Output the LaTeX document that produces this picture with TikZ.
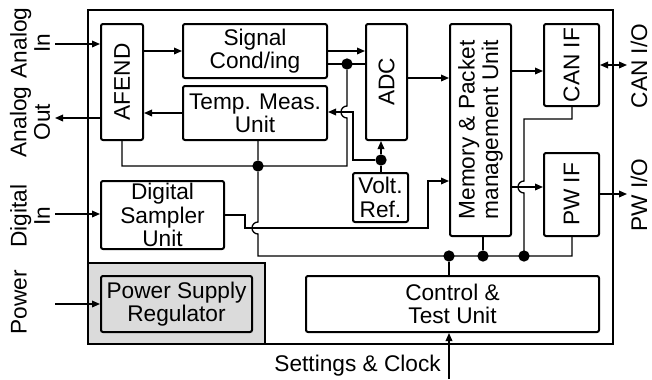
\documentclass[tikz,border=0pt]{standalone}
\usepackage{fontspec}
\setmainfont{Liberation Sans}
\usetikzlibrary{arrows.meta}
\begin{document}
\begin{tikzpicture}[x=0.75pt,y=-0.75pt,
  font=\fontsize{17}{17.5}\selectfont,
  blk/.style={draw, line width=1.5pt, rounded corners=1.5pt, inner sep=0pt, align=center},
  rblk/.style={blk, rotate=90},
  wire/.style={line width=1pt},
  arr/.style={wire, -{Triangle[length=6pt,width=5pt]}},
  darr/.style={wire, {Triangle[length=6pt,width=5pt]}-{Triangle[length=6pt,width=5pt]}},
  jdot/.style={circle, fill, inner sep=0pt, minimum size=8.5pt},
  lbl/.style={align=center, inner sep=0pt}
]
\useasboundingbox (0,0) rectangle (652,379);
% outer boundary and power area
\draw[line width=1pt] (88,10) rectangle (613,344);
\draw[line width=1.2pt, fill=gray!28] (88,263) rectangle (265,344);

% blocks
\node[rblk, minimum width=116*0.75pt, minimum height=42*0.75pt] (afend) at (122,82) {AFEND};
\node[blk, minimum width=144*0.75pt, minimum height=54*0.75pt] (sig) at (255,51) {Signal\\Cond/ing};
\node[blk, minimum width=144*0.75pt, minimum height=54*0.75pt] (temp) at (255,113) {Temp. Meas.\\Unit};
\node[rblk, minimum width=116*0.75pt, minimum height=41*0.75pt] (adc) at (386.5,82) {ADC};
\node[blk, minimum width=55*0.75pt, minimum height=49*0.75pt] (volt) at (380.5,197.5) {Volt.\\Ref.};
\node[rblk, minimum width=212*0.75pt, minimum height=61*0.75pt] (mem) at (480.5,130) {Memory \& Packet\\management Unit};
\node[rblk, minimum width=82*0.75pt, minimum height=55*0.75pt] (can) at (571.5,65) {CAN IF};
\node[rblk, minimum width=83*0.75pt, minimum height=55*0.75pt] (pw) at (571.5,194.5) {PW IF};
\node[blk, minimum width=123*0.75pt, minimum height=68*0.75pt] (dsu) at (162.5,215) {Digital\\Sampler\\Unit};
\node[blk, fill=gray!28, minimum width=151*0.75pt, minimum height=56*0.75pt] (psr) at (176.5,304) {Power Supply\\Regulator};
\node[blk, minimum width=293*0.75pt, minimum height=56*0.75pt] (ctu) at (452.5,304) {Control \&\\Test Unit};

% external labels
\node[lbl, rotate=90] (lai) at (30,43) {Analog\\In};
\node[lbl, rotate=90] (lao) at (30,122) {Analog\\Out};
\node[lbl, rotate=90] (ldi) at (30,216) {Digital\\In};
\node[lbl, rotate=90] (lpw) at (19,302) {Power};
\node[lbl, rotate=90] (lcan) at (639,66) {CAN I/O};
\node[lbl, rotate=90] (lpwio) at (639,195) {PW I/O};
\node[lbl, anchor=east] (lset) at (441,366) {Settings \& Clock};

% coordinates for free ends
\coordinate (ai) at (55,44);
\coordinate (ao) at (55,118);
\coordinate (di) at (55,214);
\coordinate (po) at (55,304);
\coordinate (canio) at (627,65);
\coordinate (pwio) at (627,194);
\coordinate (sc) at (449,379);

% external connectors
\draw[arr] (ai) -- (afend.north |- ai);
\draw[arr] (afend.north |- ao) -- (ao);
\draw[arr] (di) -- (dsu.west |- di);
\draw[arr] (po) -- (psr.west |- po);
\draw[darr] (can.south |- canio) -- (canio);
\draw[arr] (pw.south |- pwio) -- (pwio);
\draw[arr] (sc) -- (sc |- ctu.south);

% internal connectors
\draw[arr] (afend.south |- 0,51) -- (sig.west |- 0,51);
\draw[arr] (temp.west |- 0,113) -- (afend.south |- 0,113);
\draw[arr] (sig.east |- 0,51) -- (adc.north |- 0,51);
\draw[wire] (sig.east |- 0,64) -- (adc.north |- 0,64);
\node[jdot] (j1) at (347,64) {};
\draw[wire] (j1) -- (347,106) arc[start angle=90, end angle=270, radius=4.5pt] -- (347,166) -- (122,166) -- (afend.west -| 122,0);
\node[jdot] (j2) at (258,166) {};
\draw[wire] (temp.south -| 258,0) -- (j2) -- (258,222) arc[start angle=90, end angle=270, radius=4.5pt] -- (258,256) -- (572,256) -- (pw.west -| 572,0);
\node[jdot] (j3) at (381,160) {};
\draw[wire] (volt.north -| 381,0) -- (j3);
\draw[arr] (j3) -- (adc.west -| 381,0);
\draw[arr] (j3) -- (353,160) -- (353,112) -- (temp.east |- 0,112);
\draw[arr] (dsu.east |- 0,215) -- (245,215) -- (245,228) -- (428,228) -- (428,181) -- (mem.north |- 0,181);
\draw[arr] (adc.south |- 0,78) -- (mem.north |- 0,78);
\draw[arr] (mem.south |- 0,71) -- (can.north |- 0,71);
\draw[arr] (mem.south |- 0,187) -- (pw.north |- 0,187);
\draw[wire] (can.west -| 572,0) -- (572,119) -- (524,119) -- (524,181) arc[start angle=90, end angle=270, radius=4.5pt] -- (524,256);
\node[jdot] (j4) at (524,256) {};
\node[jdot] (j5) at (483,256) {};
\node[jdot] (j6) at (449,256) {};
\draw[wire] (mem.west -| 483,0) -- (j5);
\draw[wire] (ctu.north -| 449,0) -- (j6);
\end{tikzpicture}
\end{document}
